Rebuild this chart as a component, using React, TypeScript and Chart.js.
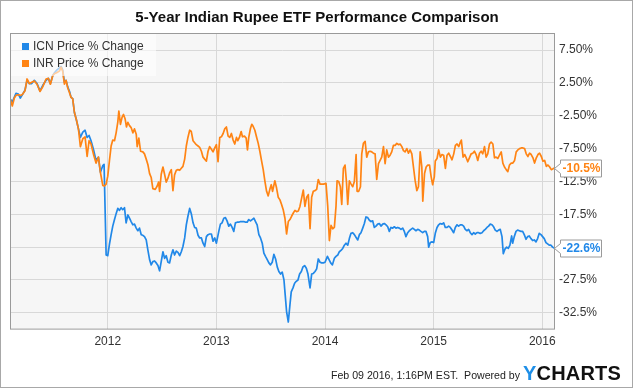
import React, { useEffect, useRef } from "react";
import { Chart, registerables } from "chart.js";

Chart.register(...registerables);

const chartTitle = "5-Year Indian Rupee ETF Performance Comparison";
const seriesNames = ["ICN Price % Change", "INR Price % Change"];
const seriesColors = ["#2188e8", "#ff8414"];
const yearTicks = [2012, 2013, 2014, 2015, 2016];
const yTicks = [7.5, 2.5, -2.5, -7.5, -12.5, -17.5, -22.5, -27.5, -32.5];
const footerText = "Feb 09 2016, 1:16PM EST.\u00a0 Powered by";

// ICN (decimal year, % change)
const icnDates = [
  2011.103, 2011.121, 2011.155, 2011.177, 2011.195, 2011.217, 2011.238, 2011.257, 2011.278, 2011.3,
  2011.324, 2011.349, 2011.376, 2011.401, 2011.432, 2011.453, 2011.472, 2011.493, 2011.508, 2011.533,
  2011.555, 2011.57, 2011.585, 2011.601, 2011.616, 2011.631, 2011.65, 2011.662, 2011.677, 2011.693,
  2011.711, 2011.73, 2011.748, 2011.77, 2011.791, 2011.81, 2011.828, 2011.846, 2011.871, 2011.892,
  2011.914, 2011.932, 2011.954, 2011.966, 2011.985,
  2012.0, 2012.015, 2012.031, 2012.046, 2012.062, 2012.077, 2012.092, 2012.108, 2012.123, 2012.138,
  2012.154, 2012.169, 2012.185, 2012.2, 2012.215, 2012.231, 2012.246, 2012.262, 2012.277, 2012.292,
  2012.308, 2012.323, 2012.338, 2012.354, 2012.369, 2012.385, 2012.4, 2012.415, 2012.431, 2012.446,
  2012.462, 2012.477, 2012.492, 2012.508, 2012.523, 2012.538, 2012.554, 2012.569, 2012.585, 2012.6,
  2012.615, 2012.631, 2012.646, 2012.662, 2012.677, 2012.692, 2012.708, 2012.723, 2012.738, 2012.754,
  2012.769, 2012.785, 2012.8, 2012.815, 2012.831, 2012.846, 2012.862, 2012.877, 2012.892, 2012.908,
  2012.923, 2012.938, 2012.954, 2012.969, 2012.985, 2013.0,
  2013.022, 2013.037, 2013.052, 2013.068, 2013.083, 2013.098, 2013.114, 2013.129, 2013.145, 2013.16,
  2013.175, 2013.191, 2013.206, 2013.222, 2013.237, 2013.252, 2013.268, 2013.283, 2013.298, 2013.314,
  2013.329, 2013.345, 2013.36, 2013.375, 2013.391, 2013.406, 2013.422, 2013.437, 2013.452, 2013.468,
  2013.483, 2013.498, 2013.514, 2013.529, 2013.545, 2013.56, 2013.575, 2013.591, 2013.606, 2013.622,
  2013.631, 2013.646, 2013.662, 2013.677, 2013.689, 2013.705, 2013.72, 2013.735, 2013.751, 2013.766,
  2013.782, 2013.797, 2013.812, 2013.828, 2013.843, 2013.862, 2013.877, 2013.892, 2013.908, 2013.923,
  2013.938, 2013.954, 2013.969, 2013.985, 2014.0, 2014.022, 2014.037, 2014.052, 2014.068,
  2014.086, 2014.101, 2014.117, 2014.132, 2014.147, 2014.163, 2014.178, 2014.193, 2014.209, 2014.224,
  2014.239, 2014.255, 2014.27, 2014.285, 2014.301, 2014.316, 2014.331, 2014.347, 2014.362, 2014.377,
  2014.393, 2014.408, 2014.423, 2014.439, 2014.454, 2014.469, 2014.485, 2014.5, 2014.515, 2014.531,
  2014.546, 2014.561, 2014.577, 2014.592, 2014.607, 2014.623, 2014.638, 2014.653, 2014.669, 2014.684,
  2014.699, 2014.715, 2014.73, 2014.745, 2014.761, 2014.776, 2014.791, 2014.807, 2014.822, 2014.837,
  2014.853, 2014.868, 2014.883, 2014.899, 2014.914, 2014.929, 2014.945, 2014.954, 2014.969, 2014.985,
  2015.0, 2015.015, 2015.031, 2015.046, 2015.061, 2015.077, 2015.092, 2015.107, 2015.123, 2015.138,
  2015.153, 2015.169, 2015.184, 2015.199, 2015.215, 2015.23, 2015.245, 2015.261, 2015.276, 2015.291,
  2015.307, 2015.322, 2015.337, 2015.353, 2015.368, 2015.383, 2015.399, 2015.414, 2015.429, 2015.445,
  2015.46, 2015.475, 2015.491, 2015.506, 2015.521, 2015.537, 2015.552, 2015.567, 2015.583, 2015.598,
  2015.613, 2015.629, 2015.641, 2015.656, 2015.672, 2015.687, 2015.702, 2015.718, 2015.727, 2015.742,
  2015.758, 2015.773, 2015.788, 2015.804, 2015.819, 2015.834, 2015.85, 2015.865, 2015.88, 2015.896,
  2015.911, 2015.926, 2015.942, 2015.957, 2015.972, 2015.988, 2016.003, 2016.018, 2016.034, 2016.049,
  2016.064, 2016.08, 2016.095, 2016.105,
];
const icnValues = [
  0.0, -0.4, 0.9, 0.8, 0.2, 0.8, 1.4, 2.9, 2.4, 2.4,
  2.9, 2.4, 1.3, 2.1, 2.9, 3.2, 2.4, 3.6, 4.0, 4.5,
  4.8, 5.0, 4.5, 2.6, 2.9, 1.9, 1.1, 0.3, 0.1, -2.0,
  -3.1, -4.5, -5.8, -5.0, -4.7, -5.8, -5.5, -6.3, -7.8, -9.3,
  -8.8, -11.1, -10.1, -9.9, -23.7,
  -23.8, -22.1, -20.6, -19.3, -18.3, -17.4, -16.6, -16.9, -16.5, -16.8,
  -16.5, -18.8, -17.6, -18.1, -18.6, -19.1, -19.0, -19.6, -20.0, -19.6,
  -20.6, -20.7, -20.9, -21.4, -22.9, -24.4, -25.2, -24.7, -24.6, -24.9,
  -25.3, -26.1, -24.7, -23.2, -24.2, -23.8, -24.8, -24.9, -23.7, -22.9,
  -23.7, -23.1, -23.3, -23.8, -23.2, -22.4, -21.1, -19.1, -17.8, -16.6,
  -17.4, -18.8, -19.5, -19.6, -20.7, -21.1, -21.1, -21.9, -22.4, -20.9,
  -20.6, -20.5, -20.5, -21.6, -21.1, -21.9,
  -20.1, -19.0, -18.8, -18.1, -18.0, -18.5, -19.3, -19.0, -19.5, -20.1,
  -18.8, -18.7, -18.7, -18.6, -18.6, -18.6, -18.7, -18.7, -18.3, -18.5,
  -18.3, -18.1, -18.6, -19.1, -20.6, -21.1, -21.9, -23.4, -23.9, -24.4,
  -24.9, -25.2, -24.8, -23.6, -24.3, -25.5, -26.2, -26.6, -26.3, -27.5,
  -29.3, -32.3, -33.9, -31.3, -29.3, -28.7, -28.0, -27.7, -27.5, -26.6,
  -26.2, -25.5, -25.3, -25.7, -26.6, -28.7, -26.6, -26.5, -26.2, -25.8,
  -24.3, -24.8, -24.9, -24.9, -24.8, -23.9, -24.4, -24.9, -25.2,
  -24.2, -23.9, -23.7, -23.2, -23.0, -22.7, -22.2, -21.9, -22.2, -21.2,
  -20.4, -20.3, -20.6, -21.0, -21.4, -20.6, -20.3, -19.6, -18.9, -17.9,
  -18.0, -18.4, -18.6, -18.5, -19.5, -19.3, -19.0, -18.9, -19.3, -19.0,
  -18.9, -19.1, -19.4, -20.1, -19.5, -19.6, -19.4, -19.6, -19.5, -19.6,
  -19.8, -19.6, -20.1, -20.9, -20.3, -20.0, -19.8, -19.6, -19.8, -20.0,
  -19.8, -19.9, -20.1, -20.3, -20.1, -20.1, -20.9, -22.5, -21.8, -21.7,
  -21.8, -20.4, -19.5, -19.1, -18.9, -19.0, -18.8, -19.5, -19.5, -19.3,
  -19.5, -19.9, -20.3, -19.5, -19.1, -19.3, -19.1, -19.1, -19.3, -19.8,
  -20.0, -19.8, -20.3, -20.6, -20.3, -20.5, -20.3, -20.3, -20.4, -20.3,
  -20.0, -19.8, -19.5, -19.3, -19.0, -19.1, -19.4, -19.9, -20.1, -19.9,
  -19.8, -20.9, -23.5, -22.8, -22.5, -22.7, -22.2, -20.8, -21.9, -20.9,
  -20.1, -19.9, -20.0, -20.1, -20.1, -20.6, -21.3, -20.9, -20.8, -21.2,
  -21.5, -21.4, -21.7, -21.2, -20.4, -20.6, -20.9, -21.2, -21.8, -22.0,
  -22.2, -22.2, -22.5, -22.6,
];

// INR (decimal year, % change)
const inrDates = [
  2011.103, 2011.121, 2011.14, 2011.155, 2011.177, 2011.201, 2011.217, 2011.238, 2011.257, 2011.278,
  2011.3, 2011.324, 2011.349, 2011.376, 2011.401, 2011.432, 2011.453, 2011.472, 2011.493, 2011.508,
  2011.533, 2011.555, 2011.57, 2011.585, 2011.601, 2011.616, 2011.631, 2011.65, 2011.662, 2011.677,
  2011.693, 2011.711, 2011.73, 2011.748, 2011.77, 2011.791, 2011.81, 2011.828, 2011.846, 2011.871,
  2011.892, 2011.914, 2011.932, 2011.954, 2011.969,
  2011.985, 2012.0, 2012.015, 2012.031, 2012.046, 2012.062, 2012.077, 2012.092, 2012.102, 2012.117,
  2012.132, 2012.145, 2012.16, 2012.172, 2012.185, 2012.2, 2012.215, 2012.231, 2012.246, 2012.262,
  2012.271, 2012.286, 2012.302, 2012.323, 2012.338, 2012.354, 2012.369, 2012.385, 2012.4, 2012.415,
  2012.437, 2012.455, 2012.468, 2012.477, 2012.492, 2012.508, 2012.523, 2012.538, 2012.554, 2012.569,
  2012.585, 2012.6, 2012.615, 2012.631, 2012.646, 2012.662, 2012.677, 2012.692, 2012.708, 2012.723,
  2012.738, 2012.754, 2012.769, 2012.785, 2012.8, 2012.815, 2012.831, 2012.846, 2012.862, 2012.877,
  2012.892, 2012.908, 2012.923, 2012.938, 2012.954, 2012.969, 2012.985, 2013.0, 2013.015,
  2013.031, 2013.046, 2013.062, 2013.077, 2013.092, 2013.108, 2013.123, 2013.138, 2013.154, 2013.169,
  2013.185, 2013.197, 2013.212, 2013.228, 2013.24, 2013.258, 2013.274, 2013.286, 2013.298, 2013.314,
  2013.326, 2013.338, 2013.354, 2013.369, 2013.385, 2013.4, 2013.415, 2013.431, 2013.446, 2013.462,
  2013.477, 2013.492, 2013.505, 2013.517, 2013.529, 2013.538, 2013.554, 2013.569, 2013.585, 2013.6,
  2013.615, 2013.631, 2013.646, 2013.662, 2013.677, 2013.692, 2013.708, 2013.723, 2013.738, 2013.754,
  2013.769, 2013.785, 2013.8, 2013.815, 2013.831, 2013.846, 2013.862, 2013.877, 2013.892, 2013.908,
  2013.923, 2013.938, 2013.954, 2013.969, 2013.985,
  2014.009, 2014.025, 2014.04, 2014.055, 2014.071, 2014.086, 2014.101, 2014.111, 2014.126, 2014.141,
  2014.154, 2014.169, 2014.184, 2014.197, 2014.209, 2014.224, 2014.24, 2014.255, 2014.27, 2014.286,
  2014.295, 2014.31, 2014.326, 2014.338, 2014.353, 2014.369, 2014.384, 2014.399, 2014.415, 2014.43,
  2014.445, 2014.461, 2014.476, 2014.492, 2014.507, 2014.522, 2014.538, 2014.553, 2014.568, 2014.584,
  2014.599, 2014.614, 2014.63, 2014.645, 2014.661, 2014.676, 2014.691, 2014.707, 2014.722, 2014.737,
  2014.753, 2014.768, 2014.783, 2014.799, 2014.814, 2014.829, 2014.845, 2014.86, 2014.876, 2014.891,
  2014.9, 2014.916, 2014.931, 2014.946, 2014.962, 2014.977,
  2014.991, 2015.006, 2015.015, 2015.031, 2015.046, 2015.062, 2015.077, 2015.092, 2015.108, 2015.123,
  2015.138, 2015.154, 2015.169, 2015.185, 2015.2, 2015.215, 2015.231, 2015.246, 2015.255, 2015.271,
  2015.286, 2015.302, 2015.314, 2015.329, 2015.345, 2015.36, 2015.375, 2015.391, 2015.406, 2015.422,
  2015.437, 2015.452, 2015.468, 2015.483, 2015.498, 2015.514, 2015.529, 2015.545, 2015.56, 2015.575,
  2015.591, 2015.606, 2015.622, 2015.637, 2015.652, 2015.668, 2015.683, 2015.698, 2015.714, 2015.729,
  2015.745, 2015.76, 2015.775, 2015.791, 2015.806, 2015.822, 2015.837, 2015.852, 2015.868, 2015.883,
  2015.898, 2015.914, 2015.929, 2015.945, 2015.96, 2015.975, 2015.991, 2016.006, 2016.022, 2016.037,
  2016.052, 2016.068, 2016.083, 2016.095, 2016.105,
];
const inrValues = [
  0.0, -1.0, 0.2, 0.6, 0.7, 0.6, 0.8, 1.3, 3.1, 2.4,
  2.6, 2.8, 2.3, 1.2, 1.9, 3.1, 3.2, 2.3, 3.6, 3.9,
  4.1, 4.3, 4.9, 4.3, 2.3, 2.9, 1.8, 0.9, 0.3, 0.1,
  -2.0, -3.1, -4.5, -7.2, -6.0, -5.7, -8.7, -6.3, -6.8, -8.5,
  -9.7, -8.8, -11.1, -13.1, -13.2,
  -12.9, -11.7, -9.4, -7.1, -6.2, -6.3, -5.1, -3.5, -1.8, -3.8,
  -2.7, -2.3, -3.0, -4.2, -3.5, -4.0, -4.3, -5.1, -4.5, -5.3,
  -7.2, -5.9, -7.9, -8.0, -8.3, -9.1, -9.9, -11.3, -11.9, -13.6,
  -13.7, -13.2, -12.6, -14.0, -11.4, -10.3, -11.4, -12.6, -12.0, -11.2,
  -10.7, -13.9, -11.5, -10.8, -10.7, -10.8, -10.5, -10.2, -9.1, -7.1,
  -5.8, -4.7, -4.9, -6.3, -6.6, -6.9, -7.1, -7.3, -7.9, -8.8,
  -9.1, -9.4, -7.9, -7.2, -7.6, -8.0, -7.4, -6.9, -9.5,
  -5.8, -5.7, -5.2, -4.5, -4.2, -5.6, -5.8, -5.2, -6.2, -6.8,
  -5.8, -6.3, -5.8, -4.9, -5.7, -5.6, -5.9, -7.7, -5.8, -4.4,
  -3.8, -4.1, -4.7, -5.7, -6.7, -7.9, -9.3, -10.7, -12.4, -14.0,
  -14.7, -13.7, -13.0, -14.0, -13.1, -12.4, -13.5, -14.9, -15.3, -16.0,
  -16.8, -18.1, -20.5, -18.6, -18.3, -17.8, -17.3, -16.9, -17.1, -17.0,
  -16.3, -15.0, -13.8, -16.3, -14.9, -14.5, -19.7, -14.9, -14.0, -13.9,
  -13.7, -12.2, -12.9, -12.9, -12.9,
  -12.8, -16.3, -21.5, -19.2, -19.7, -19.5, -16.3, -12.4, -12.5, -13.3,
  -16.0, -10.5, -10.0, -12.5, -16.0, -12.4, -12.9, -13.3, -12.5, -8.4,
  -14.0, -14.0, -13.3, -8.3, -6.7, -6.4, -8.8, -8.0, -7.9, -8.0,
  -8.2, -8.3, -12.2, -9.8, -9.3, -8.8, -7.2, -9.8, -7.7, -8.8,
  -8.5, -8.0, -7.0, -7.0, -6.7, -6.9, -6.8, -7.2, -7.8, -8.0,
  -7.5, -8.2, -7.7, -8.3, -10.3, -12.3, -13.9, -13.3, -8.0, -10.3,
  -15.5, -11.3, -10.3, -10.0, -10.0, -11.8,
  -13.0, -11.8, -9.4, -9.0, -7.7, -8.8, -8.4, -8.5, -10.5, -8.5,
  -8.2, -8.7, -9.2, -8.3, -7.0, -6.8, -7.2, -6.5, -6.2, -8.8,
  -8.4, -9.0, -9.5, -8.9, -8.3, -8.2, -7.9, -8.4, -9.3, -8.2,
  -7.9, -8.3, -7.2, -8.8, -8.3, -6.8, -6.5, -6.8, -8.9, -8.8,
  -9.0, -8.5, -8.0, -9.7, -10.3, -10.7, -11.0, -10.0, -9.7, -9.7,
  -9.3, -8.0, -7.7, -7.5, -7.4, -7.4, -7.5, -8.3, -8.7, -8.2,
  -8.4, -8.9, -9.7, -8.9, -8.4, -8.2, -8.7, -9.4, -9.3, -10.2,
  -10.0, -10.3, -10.7, -10.6, -10.5,
];

const FONT = '"Liberation Sans", Arial, Helvetica, sans-serif';

function pctLabel(v: number): string {
  return (Math.abs(v) < 10 ? v.toFixed(2) : v.toFixed(1)) + "%";
}

const decorPlugin = {
  id: "decor",
  beforeDraw(chart: any) {
    const { ctx, chartArea: a } = chart;
    ctx.save();
    ctx.fillStyle = "#f6f6f6";
    ctx.fillRect(a.left, a.top, a.right - a.left, a.bottom - a.top);
    // title
    ctx.fillStyle = "#111";
    ctx.font = "bold 15px " + FONT;
    ctx.textAlign = "center";
    ctx.textBaseline = "middle";
    ctx.fillText(chartTitle, 317, 17.5);
    ctx.restore();
  },
  afterDatasetsDraw(chart: any) {
    const { ctx, chartArea: a } = chart;
    ctx.save();
    // legend box
    ctx.fillStyle = "rgba(255,255,255,0.6)";
    ctx.fillRect(a.left + 1, a.top + 1, 145, 42);
    ctx.font = "12px " + FONT;
    ctx.textBaseline = "middle";
    ctx.textAlign = "left";
    chart.data.datasets.forEach((ds: any, i: number) => {
      const cy = a.top + 13.5 + i * 17;
      ctx.fillStyle = ds.borderColor;
      ctx.fillRect(a.left + 12, Math.round(cy - 3.5), 7, 7);
      ctx.fillStyle = "#333";
      ctx.fillText(ds.label, a.left + 23, cy);
    });
    // plot border
    ctx.strokeStyle = "#9a9a9a";
    ctx.lineWidth = 1;
    ctx.strokeRect(a.left + 0.5, a.top + 0.5, a.right - a.left - 1, a.bottom - a.top);
    ctx.restore();
  },
  afterDraw(chart: any) {
    const { ctx, chartArea: a } = chart;
    const yScale = chart.scales.y;
    ctx.save();
    chart.data.datasets.forEach((ds: any) => {
      const last = ds.data[ds.data.length - 1].y;
      const y = Math.round(yScale.getPixelForValue(last)) + 0.5;
      const x = a.right - 0.5;
      ctx.beginPath();
      ctx.moveTo(x, y);
      ctx.lineTo(x + 6, y - 5);
      ctx.lineTo(x + 6, y - 8.5);
      ctx.lineTo(x + 47, y - 8.5);
      ctx.lineTo(x + 47, y + 8.5);
      ctx.lineTo(x + 6, y + 8.5);
      ctx.lineTo(x + 6, y + 5);
      ctx.closePath();
      ctx.fillStyle = "#fff";
      ctx.fill();
      ctx.strokeStyle = "#9a9a9a";
      ctx.lineWidth = 1;
      ctx.stroke();
      ctx.fillStyle = ds.borderColor;
      ctx.font = "bold 12px " + FONT;
      ctx.textBaseline = "middle";
      ctx.textAlign = "left";
      ctx.fillText(last.toFixed(1) + "%", x + 8, y + 0.5);
    });
    ctx.restore();
  },
};

export default function App() {
  const canvasRef = useRef<HTMLCanvasElement | null>(null);

  useEffect(() => {
    const canvas = canvasRef.current;
    if (!canvas) return;
    const icnData = icnDates.map((d, i) => ({ x: d, y: icnValues[i] }));
    const inrData = inrDates.map((d, i) => ({ x: d, y: inrValues[i] }));
    const chart = new Chart(canvas, {
      type: "line",
      data: {
        datasets: [
          {
            label: seriesNames[0],
            data: icnData,
            borderColor: seriesColors[0],
            backgroundColor: seriesColors[0],
            borderWidth: 1.7,
            pointRadius: 0,
            tension: 0,
            order: 1,
          },
          {
            label: seriesNames[1],
            data: inrData,
            borderColor: seriesColors[1],
            backgroundColor: seriesColors[1],
            borderWidth: 1.7,
            pointRadius: 0,
            tension: 0,
            order: 0,
          },
        ],
      },
      options: {
        animation: false,
        responsive: false,
        maintainAspectRatio: false,
        devicePixelRatio: 1,
        layout: { padding: { left: 10, right: 0, top: 33, bottom: 0 } },
        plugins: {
          legend: { display: false },
          tooltip: { enabled: false },
          title: { display: false },
        },
        elements: { line: { borderJoinStyle: "round", borderCapStyle: "round" } },
        scales: {
          x: {
            type: "linear",
            min: 2011.1,
            max: 2016.117,
            afterBuildTicks: (scale: any) => {
              scale.ticks = yearTicks.map((v) => ({ value: v }));
            },
            afterFit: (scale: any) => {
              scale.height = 60.4;
            },
            ticks: {
              color: "#333",
              font: { family: FONT, size: 12 },
              padding: 6,
              maxRotation: 0,
              autoSkip: false,
              callback: (v: any) => String(v),
            },
            grid: { color: "#d8d8d8", lineWidth: 1, drawTicks: false },
            border: { display: false },
          },
          y: {
            type: "linear",
            position: "right",
            min: -34.9,
            max: 10.1,
            afterBuildTicks: (scale: any) => {
              scale.ticks = yTicks.map((v) => ({ value: v }));
            },
            afterFit: (scale: any) => {
              scale.width = 80;
            },
            ticks: {
              color: "#333",
              font: { family: FONT, size: 12 },
              padding: 4,
              autoSkip: false,
              callback: (v: any) => pctLabel(Number(v)),
            },
            grid: { color: "#d8d8d8", lineWidth: 1, drawTicks: false },
            border: { display: false },
          },
        },
      },
      plugins: [decorPlugin],
    } as any);
    return () => chart.destroy();
  }, []);

  return (
    <div
      style={{
        position: "absolute",
        left: 0,
        top: 0,
        width: 635,
        height: 389,
        background: "#fff",
        overflow: "hidden",
      }}
    >
      <div
        style={{
          position: "absolute",
          left: 0,
          top: 0,
          width: 633,
          height: 388,
          border: "1px solid #a8a8a8",
          boxSizing: "border-box",
        }}
      />
      <canvas
        ref={canvasRef}
        width={635}
        height={389}
        style={{ position: "absolute", left: 0, top: 0, width: 635, height: 389 }}
      />
      <div
        style={{
          position: "absolute",
          left: 331,
          top: 370,
          font: "10.6px " + FONT,
          lineHeight: "11px",
          color: "#222",
          whiteSpace: "nowrap",
        }}
      >
        {footerText}
      </div>
      <div
        style={{
          position: "absolute",
          left: 523,
          top: 363,
          font: "bold 20px " + FONT,
          lineHeight: "20px",
          whiteSpace: "nowrap",
          letterSpacing: "0.2px",
        }}
      >
        <span style={{ color: "#1e8fe8" }}>Y</span>
        <span style={{ color: "#111" }}>CHARTS</span>
      </div>
    </div>
  );
}
